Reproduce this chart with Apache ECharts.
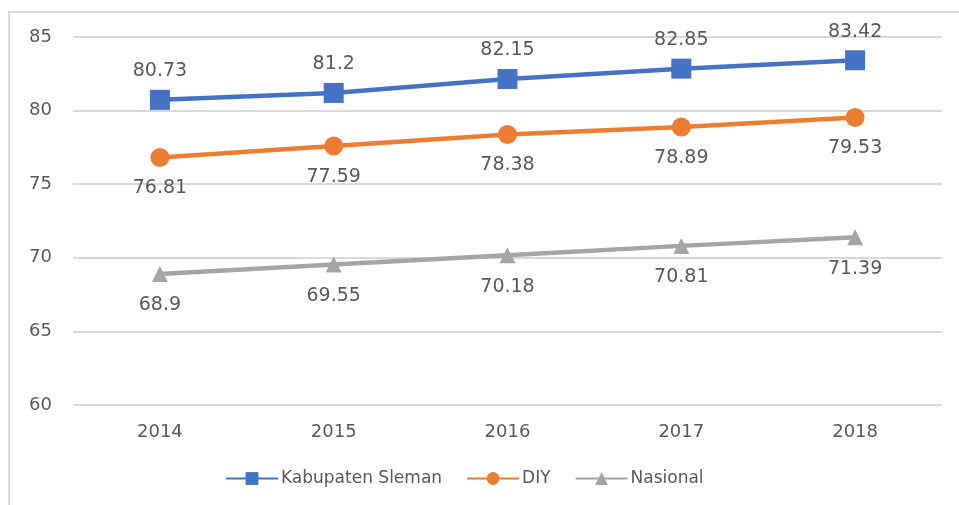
<!DOCTYPE html>
<html>
<head>
<meta charset="utf-8">
<script src="https://cdn.jsdelivr.net/npm/echarts@6/dist/echarts.min.js"></script>
<style>
  html, body { margin: 0; padding: 0; background: #fff; }
  #chart { width: 959px; height: 505px; }
</style>
</head>
<body>
<div id="chart"></div>
<script>
const years = ['2014', '2015', '2016', '2017', '2018'];
const sleman = [80.73, 81.2, 82.15, 82.85, 83.42];
const diy = [76.81, 77.59, 78.38, 78.89, 79.53];
const nasional = [68.9, 69.55, 70.18, 70.81, 71.39];

const textColor = '#595959';
const fontFamily = '"DejaVu Sans", "Open Sans", sans-serif';

function makeSeries(name, data, color, symbol, size, pos, dist) {
  return {
    name,
    type: 'line',
    data,
    symbol,
    symbolSize: size,
    lineStyle: { color, width: 4.5 },
    itemStyle: { color },
    label: {
      show: true,
      position: pos,
      distance: dist,
      color: textColor,
      fontSize: 19,
      fontFamily
    }
  };
}

const chart = echarts.init(document.getElementById('chart'), null, { renderer: 'canvas' });

chart.setOption({
  animation: false,
  textStyle: { fontFamily },
  graphic: [{
    type: 'polyline',
    shape: { points: [[9, 505], [9, 12], [959, 12]] },
    style: { stroke: '#d9d9d9', lineWidth: 2, fill: null }
  }],
  grid: { left: 73, right: 17, top: 37, bottom: 100, containLabel: false },
  legend: {
    bottom: 13,
    left: 220,
    itemWidth: 52,
    itemHeight: 16,
    itemGap: 24,
    textStyle: { color: textColor, fontSize: 17, fontFamily, padding: [0, 0, 0, -2] },
    data: ['Kabupaten Sleman', 'DIY', 'Nasional']
  },
  xAxis: {
    type: 'category',
    data: years,
    boundaryGap: true,
    axisLine: { show: false },
    axisTick: { show: false },
    axisLabel: { color: textColor, fontSize: 18, margin: 18 }
  },
  yAxis: {
    type: 'value',
    min: 60,
    max: 85,
    interval: 5,
    axisLine: { show: false },
    axisTick: { show: false },
    axisLabel: { color: textColor, fontSize: 18, margin: 21 },
    splitLine: { lineStyle: { color: '#d9d9d9', width: 2 } }
  },
  series: [
    makeSeries('Kabupaten Sleman', sleman, '#4472c4', 'rect', 20, 'top', 9),
    makeSeries('DIY', diy, '#ed7d31', 'circle', 19, 'bottom', 12),
    makeSeries('Nasional', nasional, '#a5a5a5', 'triangle', 16, 'bottom', 14)
  ]
});
</script>
</body>
</html>
